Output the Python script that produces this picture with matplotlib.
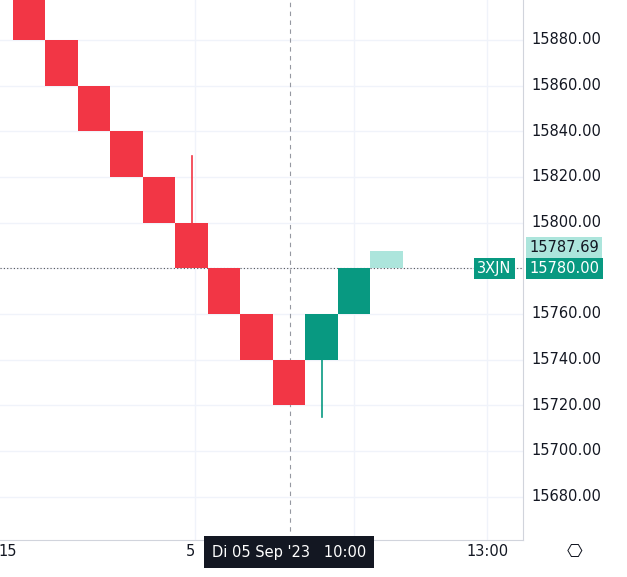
import matplotlib
matplotlib.use("Agg")
import matplotlib.pyplot as plt
from matplotlib.patches import Rectangle

opens  = [15900, 15880, 15860, 15840, 15820, 15800, 15780, 15760, 15740, 15740, 15760, 15780]
closes = [15880, 15860, 15840, 15820, 15800, 15780, 15760, 15740, 15720, 15760, 15780, 15787.69]
wick_hi = [None, None, None, None, None, 15829, None, None, None, None, None, None]
wick_lo = [None, None, None, None, None, None, None, None, None, 15715, None, None]
yticks = [15680, 15700, 15720, 15740, 15760, 15780, 15800, 15820, 15840, 15860, 15880]
last_price = 15780.00
ghost_price = 15787.69

W, H = 627, 577
fig = plt.figure(figsize=(W/100, H/100), dpi=100)
ax = fig.add_axes([0, 37/H, 523/W, 540/H])
red, green, ghost = "#f23645", "#089981", "#ace5dc"
n = len(opens)
for i in range(n):
    o, c = opens[i], closes[i]
    if i == n - 1:
        col = ghost
    else:
        col = green if c > o else red
    ax.add_patch(Rectangle((i, min(o, c)), 1, abs(c - o), color=col, lw=0, zorder=3))
    if wick_hi[i]:
        ax.plot([i + 0.5, i + 0.5], [max(o, c), wick_hi[i]], color=col, lw=1.2, zorder=2)
    if wick_lo[i]:
        ax.plot([i + 0.5, i + 0.5], [min(o, c), wick_lo[i]], color=col, lw=1.2, zorder=2)

ax.set_xlim(-0.4, 15.7)
ax.set_ylim(15661, 15897.5)
for y in yticks:
    ax.axhline(y, color="#f0f3fa", lw=1, zorder=0)
for xv in [5.6, 10.5, 14.6]:
    ax.axvline(xv, color="#f0f3fa", lw=1, zorder=0)
ax.axvline(8.52, color="#9598a1", lw=0.8, ls=(0, (4, 4)), zorder=1)
ax.axhline(last_price, color="#555555", lw=0.8, ls=(0, (1, 2)), zorder=1)
ax.set_xticks([]); ax.set_yticks([])
for s in ["top", "left"]:
    ax.spines[s].set_visible(False)
ax.spines["right"].set_color("#d1d4dc"); ax.spines["bottom"].set_color("#d1d4dc")

for y in yticks:
    ax.text(15.7 + 0.25, y, f"{y:.2f}", va="center", ha="left", fontsize=10.5, color="#131722",
            clip_on=False)
ax.text(15.7 + 0.2, ghost_price + 1.5, f"{ghost_price:.2f}", va="center", ha="left", fontsize=10.5,
        color="#131722", clip_on=False, zorder=5,
        bbox=dict(boxstyle="square,pad=0.22", fc=ghost, ec="none"))
ax.text(15.7 + 0.2, last_price, f"{last_price:.2f}", va="center", ha="left", fontsize=10.5,
        color="white", clip_on=False, zorder=6,
        bbox=dict(boxstyle="square,pad=0.22", fc=green, ec="none"))
ax.text(15.35, last_price, "3XJN", va="center", ha="right", fontsize=10.5, color="white",
        clip_on=False, zorder=5, bbox=dict(boxstyle="square,pad=0.22", fc=green, ec="none"))

fig.text(8/W, 1 - 552/H, "15", ha="center", va="center", fontsize=10.5, color="#131722")
fig.text(190/W, 1 - 552/H, "5", ha="center", va="center", fontsize=10.5, color="#131722")
fig.text(487/W, 1 - 552/H, "13:00", ha="center", va="center", fontsize=10.5, color="#131722")
fig.text(289/W, 1 - 552/H, "Di 05 Sep '23   10:00", ha="center", va="center", fontsize=10.5,
         color="white", bbox=dict(boxstyle="square,pad=0.55", fc="#131722", ec="none"))
fig.text(575/W, 1 - 552/H, "⎔", ha="center", va="center", fontsize=13, color="#131722")
fig.savefig("out.png", dpi=100)
